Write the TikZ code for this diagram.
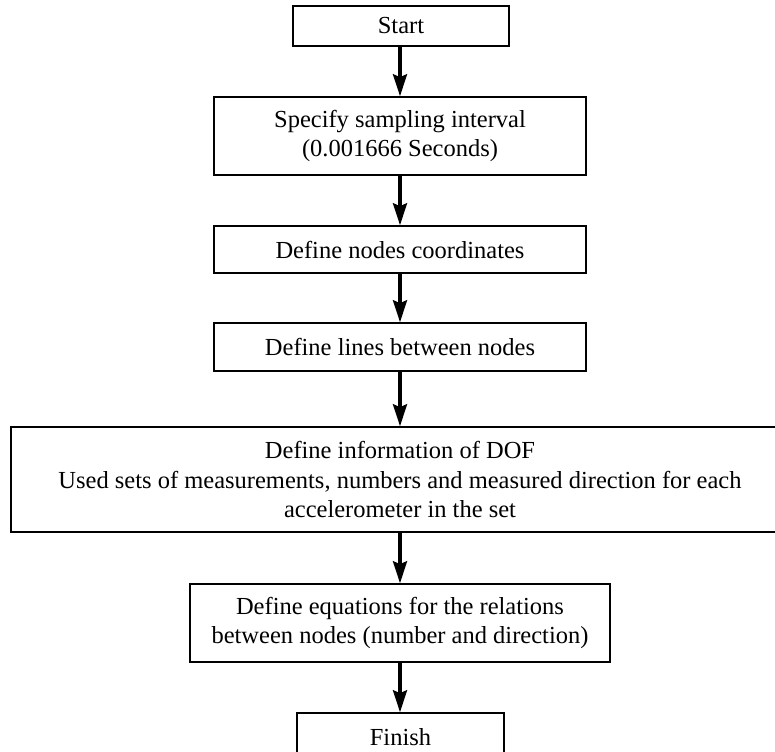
\documentclass[tikz,border=0pt]{standalone}
\usepackage{fontspec}
\setmainfont{Liberation Serif}
\usetikzlibrary{arrows.meta}
\tikzset{
  box/.style={draw, line width=1.5pt, inner sep=0pt, align=center, anchor=center},
  arr/.style={line width=3.5pt, -{Stealth[length=22pt, width=14pt, inset=3pt]}}
}
\begin{document}
\begin{tikzpicture}[x=1pt, y=-1pt, font=\fontsize{24.5}{29.5}\selectfont]
\useasboundingbox (0,0) rectangle (775,751);
\clip (0,0) rectangle (775,751);
\node[box, minimum width=216pt, minimum height=40pt] (start) at (401,26) {Start};
\node[box, minimum width=372pt, minimum height=78pt] (b2) at (400,136) {Specify sampling interval\\(0.001666 Seconds)};
\node[box, minimum width=372pt, minimum height=47pt] (b3) at (400,249.5) {Define nodes coordinates};
\node[box, minimum width=372pt, minimum height=48pt] (b4) at (400,347) {Define lines between nodes};
\node[box, minimum width=778pt, minimum height=105pt] (b5) at (400,479.5) {Define information of DOF\\Used sets of measurements, numbers and measured direction for each\\accelerometer in the set};
\node[box, minimum width=420pt, minimum height=78pt] (b6) at (400,623) {Define equations for the relations\\between nodes (number and direction)};
\node[box, minimum width=207pt, minimum height=48pt] (fin) at (400.5,737) {Finish};
\draw[arr] (start.south -| b2.north) -- (b2.north);
\draw[arr] (b2.south) -- (b3.north);
\draw[arr] (b3.south) -- (b4.north);
\draw[arr] (b4.south) -- (b5.north);
\draw[arr] (b5.south) -- (b6.north);
\draw[arr] (b6.south) -- (fin.north -| b6.south);
\end{tikzpicture}
\end{document}
